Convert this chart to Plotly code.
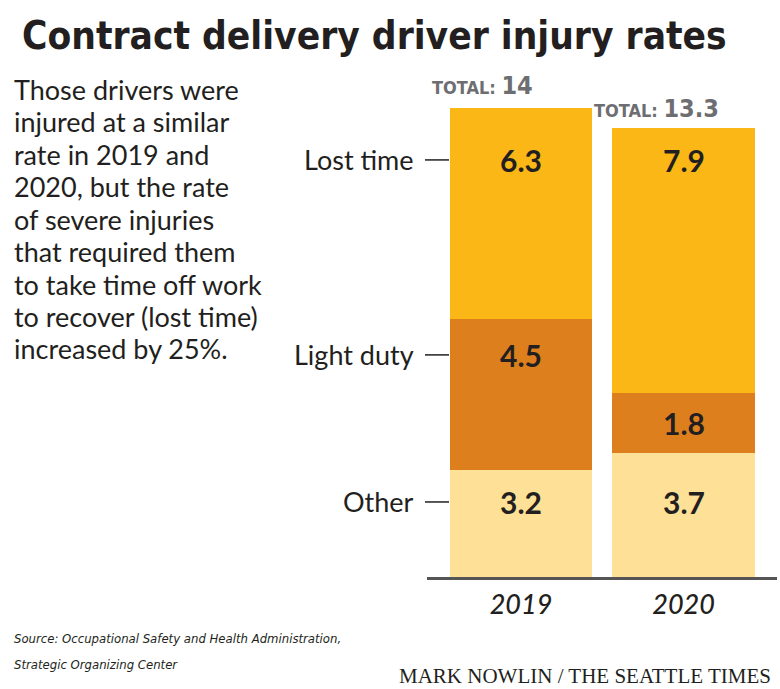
import plotly.graph_objects as go

# ---- data ----
years = ["2019", "2020"]
other = [3.2, 3.7]
light_duty = [4.5, 1.8]
lost_time = [6.3, 7.9]
totals = [14, 13.3]
series_names = ["Other", "Light duty", "Lost time"]
series_colors = ["#FEE197", "#DE7F1E", "#FBB716"]

body_lines = [
    "Those drivers were",
    "injured at a similar",
    "rate in 2019 and",
    "2020, but the rate",
    "of severe injuries",
    "that required them",
    "to take time off work",
    "to recover (lost time)",
    "increased by 25%.",
]
title = "Contract delivery driver injury rates"
source_lines = ["Source: Occupational Safety and Health Administration,",
                "Strategic Organizing Center"]
credit = "MARK NOWLIN / THE SEATTLE TIMES"

W, H = 780, 689
def px_x(p): return p / W
def px_y(p): return 1 - p / H

# row label positions (data units) used to align labels
row_y = {"Lost time": 12.45, "Light duty": 6.63, "Other": 2.24}

BAR_WIDTH = 0.874
BODY_FONT = "Lato, 'Noto Sans', sans-serif"
COND_FONT = "'DejaVu Sans Condensed', 'DejaVu Sans', sans-serif"
DARK = "#231F20"

fig = go.Figure()
values = [other, light_duty, lost_time]
xs = list(range(len(years)))
for name, vals, col in zip(series_names, values, series_colors):
    fig.add_bar(x=xs, y=vals, name=name, marker=dict(color=col, line=dict(width=0)),
                width=BAR_WIDTH, hoverinfo="skip")

annotations = []
shapes = []
# value labels
for i in xs:
    base = 0
    for name, vals in zip(series_names, values):
        lo, hi = base, base + vals[i]
        ry = row_y[name]
        ly = ry if lo + 0.6 < ry < hi - 0.6 else (lo + hi) / 2
        annotations.append(dict(x=i, y=ly, xref="x", yref="y", text=f"<b>{vals[i]}</b>",
                                showarrow=False, font=dict(family=BODY_FONT, size=30, color=DARK)))
        base = hi
    annotations.append(dict(x=i - BAR_WIDTH / 2, y=totals[i], xref="x", yref="y",
                            xanchor="left", yanchor="bottom",
                            xshift=-20, yshift=6, showarrow=False,
                            text=f"<b>TOTAL: <span style='font-size:25px'>{totals[i]}</span></b>",
                            font=dict(family=COND_FONT, size=18, color="#6D6E71")))

# row labels
for name in series_names:
    annotations.append(dict(x=px_x(416), y=row_y[name], xref="paper", yref="y", xanchor="right",
                            text=name, showarrow=False, font=dict(family=BODY_FONT, size=27, color=DARK)))
    shapes.append(dict(type="line", xref="paper", yref="y", x0=px_x(425), x1=px_x(449),
                       y0=row_y[name], y1=row_y[name], line=dict(color=DARK, width=1.5)))

# title
annotations.append(dict(x=px_x(20), y=px_y(36), xref="paper", yref="paper", xanchor="left", yanchor="middle",
                        text=f"<b>{title}</b>", showarrow=False,
                        font=dict(family=COND_FONT, size=38.5, color=DARK)))
# body text
for k, line in enumerate(body_lines):
    annotations.append(dict(x=px_x(12), y=px_y(89 + 32.5 * k), xref="paper", yref="paper",
                            xanchor="left", yanchor="middle", text=line, showarrow=False,
                            font=dict(family=BODY_FONT, size=27, color=DARK)))
# source
for k, line in enumerate(source_lines):
    annotations.append(dict(x=px_x(12), y=px_y(638 + 26 * k), xref="paper", yref="paper",
                            xanchor="left", yanchor="middle", text=line, showarrow=False,
                            font=dict(family=COND_FONT, size=13, color=DARK, style="italic")))
annotations.append(dict(x=px_x(773), y=px_y(676), xref="paper", yref="paper",
                        xanchor="right", yanchor="middle", text=credit, showarrow=False,
                        font=dict(family="'Liberation Serif', 'DejaVu Serif', serif", size=21, color=DARK)))

fig.update_layout(
    width=W, height=H, margin=dict(l=0, r=0, t=0, b=0),
    paper_bgcolor="white", plot_bgcolor="white",
    barmode="stack", showlegend=False,
    annotations=annotations, shapes=shapes,
    xaxis=dict(domain=[px_x(427), px_x(777)], range=[-0.578, 1.575],
               tickvals=xs, ticktext=years, showgrid=False, zeroline=False,
               showline=True, linecolor="#555555", linewidth=2.5, ticks="",
               ticklabelstandoff=2,
               tickfont=dict(family=BODY_FONT, size=27, color=DARK, style="italic", weight=500)),
    yaxis=dict(domain=[1 - 577 / H, 1 - 58 / H], range=[0, (577 - 58) / 33.5], visible=False),
)
fig.write_html("out.html", config={"displayModeBar": False},
               post_script="document.body.style.margin='0';document.body.style.overflow='hidden';")
